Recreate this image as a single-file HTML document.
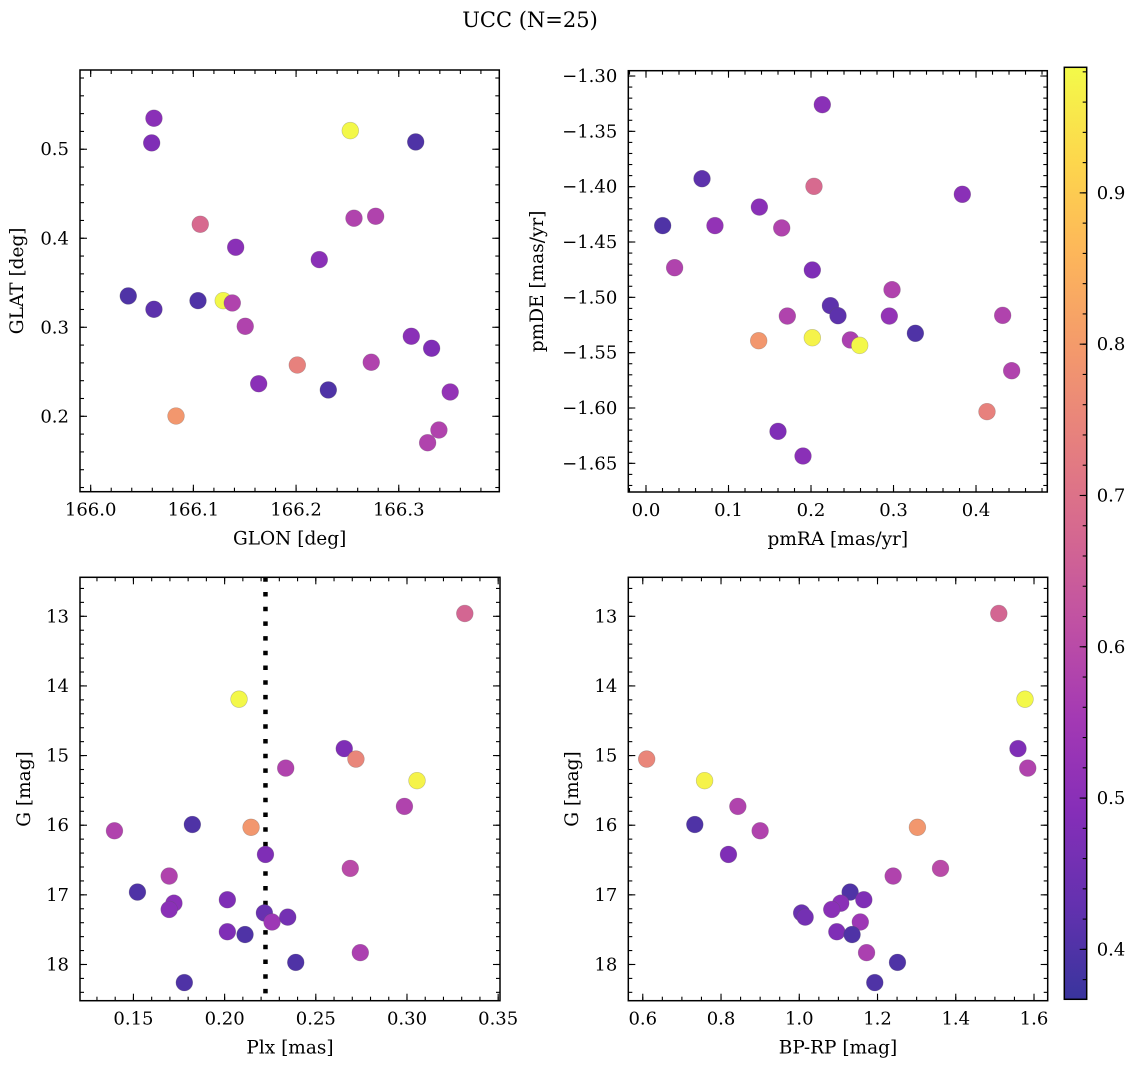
<!DOCTYPE html>
<html><head><meta charset="utf-8">
<style>
html,body{margin:0;padding:0;background:#fff;}
svg{display:block;font-family:"DejaVu Serif","Liberation Serif",serif;}
</style></head>
<body>
<svg id="fig" width="1136" height="1067" viewBox="0 0 1136 1067" xmlns="http://www.w3.org/2000/svg">
<defs><linearGradient id="cbgrad" x1="0" y1="1" x2="0" y2="0"></linearGradient></defs>
<text x="530" y="27" text-anchor="middle" font-size="21">UCC (N=25)</text>
</svg>
<script>
// Panel 1: GLON vs GLAT
const p1Glon=[166.0616,166.0594,166.2528,166.3165,166.1067,166.1412,166.2564,166.2775,166.2226,166.0366,166.0616,166.1045,166.1291,166.1379,166.1505,166.1636,166.2012,166.2314,166.2732,166.3122,166.3320,166.3501,166.3391,166.3281,166.0831];
const p1Glat=[0.5348,0.5071,0.5209,0.5082,0.4157,0.3899,0.4225,0.4247,0.3760,0.3352,0.3202,0.3299,0.3299,0.3273,0.3011,0.2366,0.2576,0.2296,0.2607,0.2899,0.2764,0.2273,0.1846,0.1703,0.2003];
const p1Color=[0.50,0.48,0.98,0.40,0.68,0.50,0.58,0.58,0.50,0.40,0.42,0.40,0.98,0.58,0.58,0.50,0.74,0.40,0.58,0.50,0.48,0.52,0.58,0.58,0.79];
// Panel 2: pmRA vs pmDE
const p2PmRA=[0.2137,0.0679,0.2036,0.3834,0.0202,0.0836,0.1374,0.1645,0.0347,0.2016,0.2982,0.2235,0.2327,0.1713,0.2949,0.4323,0.3265,0.1366,0.2016,0.2477,0.2590,0.4432,0.4133,0.1600,0.1903];
const p2PmDE=[-1.3259,-1.3928,-1.3997,-1.4069,-1.4352,-1.4352,-1.4184,-1.4373,-1.4732,-1.4753,-1.4931,-1.5075,-1.5166,-1.5169,-1.5169,-1.5163,-1.5325,-1.5392,-1.5365,-1.5385,-1.5434,-1.5663,-1.6033,-1.6211,-1.6434];
const p2Color=[0.50,0.42,0.68,0.50,0.40,0.52,0.50,0.58,0.58,0.48,0.58,0.42,0.42,0.58,0.52,0.58,0.40,0.79,0.97,0.57,0.98,0.58,0.74,0.48,0.50];
// Panels 3 & 4: Plx / BP-RP vs G
const starPlx=[0.3317,0.2079,0.2656,0.2720,0.2335,0.3055,0.2986,0.1396,0.1823,0.2145,0.2224,0.2689,0.1696,0.1522,0.1722,0.1696,0.2015,0.2218,0.2260,0.2346,0.2015,0.2112,0.2390,0.2744,0.1779];
const starG=[12.96,14.19,14.90,15.05,15.18,15.36,15.73,16.08,15.99,16.03,16.42,16.62,16.73,16.96,17.12,17.21,17.07,17.26,17.39,17.32,17.53,17.57,17.97,17.83,18.26];
const starBPRP=[1.510,1.577,1.559,0.610,1.584,0.758,0.843,0.900,0.733,1.302,0.819,1.361,1.240,1.130,1.106,1.083,1.165,1.006,1.156,1.015,1.096,1.135,1.251,1.172,1.193];
const starColor=[0.67,0.98,0.48,0.75,0.58,0.97,0.58,0.58,0.40,0.79,0.48,0.60,0.58,0.40,0.50,0.50,0.48,0.44,0.54,0.46,0.48,0.40,0.40,0.57,0.40];
const plxLine=0.2224;
// Colorbar
const cbMin=0.367, cbMax=0.983;
const cbTicks=[0.4,0.5,0.6,0.7,0.8,0.9];

const NS="http://www.w3.org/2000/svg";
const svg=document.getElementById('fig');
function mk(tag,attrs,parent){const e=document.createElementNS(NS,tag);for(const k in attrs)e.setAttribute(k,attrs[k]);(parent||svg).appendChild(e);return e;}

const plasma=[[13,8,135],[65,4,157],[106,0,168],[143,13,164],[177,42,144],[204,71,120],[225,100,98],[242,132,75],[252,166,54],[252,206,37],[240,249,33]];
const ALPHA=0.82;
function cmap(v){let t=(v-cbMin)/(cbMax-cbMin);t=Math.max(0,Math.min(1,t));const f=t*10;const i=Math.min(9,Math.floor(f));const r=f-i;
 const c=plasma[i].map((a,k)=>a+(plasma[i+1][k]-a)*r).map(a=>Math.round(a*ALPHA+255*(1-ALPHA)));return `rgb(${c[0]},${c[1]},${c[2]})`;}

function fmt(v,d){const s=Math.abs(v).toFixed(d);return (v<0?'\u2212':'')+s;}

function panel(o){
 const g=mk('g',{});
 
 
 const X=v=>o.L+(v-o.xd[0])/(o.xd[1]-o.xd[0])*(o.R-o.L);
 const Y=o.inv ? (v=>o.T+(v-o.yd[0])/(o.yd[1]-o.yd[0])*(o.B-o.T)) : (v=>o.B-(v-o.yd[0])/(o.yd[1]-o.yd[0])*(o.B-o.T));
 const tk=mk('g',{stroke:'#000','stroke-width':1.1},g);
 
 
 function xt(v,len){const x=X(v);if(x<o.L-0.5||x>o.R+0.5)return;mk('line',{x1:x,x2:x,y1:o.B,y2:o.B-len},tk);mk('line',{x1:x,x2:x,y1:o.T,y2:o.T+len},tk);}
 function yt(v,len){const y=Y(v);if(y<o.T-0.5||y>o.B+0.5)return;mk('line',{x1:o.L,x2:o.L+len,y1:y,y2:y},tk);mk('line',{x1:o.R,x2:o.R-len,y1:y,y2:y},tk);}
 const n1=Math.ceil(o.xd[0]/o.xmin-1e-6), n2=Math.floor(o.xd[1]/o.xmin+1e-6);
 for(let n=n1;n<=n2;n++)xt(n*o.xmin,4);
 const lo=Math.min(o.yd[0],o.yd[1]), hi=Math.max(o.yd[0],o.yd[1]);
 const m1=Math.ceil(lo/o.ymin-1e-6), m2=Math.floor(hi/o.ymin+1e-6);
 for(let n=m1;n<=m2;n++)yt(n*o.ymin,4);
 o.xt.forEach(v=>{xt(v,7);
  const t=mk('text',{x:X(v),y:o.B+24,'text-anchor':'middle','font-size':18},g);t.textContent=fmt(v,o.xdp);
  
  });
 o.yt.forEach(v=>{yt(v,7);
  const t=mk('text',{x:o.L-11,y:Y(v)+6,'text-anchor':'end','font-size':18},g);t.textContent=fmt(v,o.ydp);
  
  });
 if(o.vline!==undefined){const l=mk('line',{x1:X(o.vline),x2:X(o.vline),y1:o.T,y2:o.B,stroke:'#000','stroke-width':4.5,'stroke-dasharray':'4.5 10.2'},g);
  
  }
 o.xs.forEach((xv,i)=>{const c=mk('circle',{cx:X(xv),cy:Y(o.ys[i]),r:8.4,fill:cmap(o.cs[i]),stroke:'rgba(90,90,90,0.35)','stroke-width':0.6},g);
  
  });
 const fr=mk('rect',{x:o.L,y:o.T,width:o.R-o.L,height:o.B-o.T,fill:'none',stroke:'#000','stroke-width':1.5},g);
 
 
 const xl=mk('text',{x:(o.L+o.R)/2,y:o.B+53,'text-anchor':'middle','font-size':18.5},g);xl.textContent=o.xlab;
 
 
 const cy=(o.T+o.B)/2;
 const yl=mk('text',{x:o.ylx,y:cy,'text-anchor':'middle','font-size':18.5,transform:`rotate(-90 ${o.ylx} ${cy})`},g);yl.textContent=o.ylab;
 
 
}

panel({name:'glon-glat-panel',L:80,R:499.3,T:70,B:491.7,xd:[165.9896,166.3979],yd:[0.1153,0.589],
 xt:[166.0,166.1,166.2,166.3],xdp:1,xmin:0.02,yt:[0.2,0.3,0.4,0.5],ydp:1,ymin:0.02,
 xs:p1Glon,ys:p1Glat,cs:p1Color,xlab:'GLON [deg]',ylab:'GLAT [deg]',ylx:23});
panel({name:'pm-panel',L:628.3,R:1047.3,T:70.7,B:492,xd:[-0.02145,0.4864],yd:[-1.6759,-1.2952],
 xt:[0,0.1,0.2,0.3,0.4],xdp:1,xmin:0.02,yt:[-1.30,-1.35,-1.40,-1.45,-1.50,-1.55,-1.60,-1.65],ydp:2,ymin:0.01,
 xs:p2PmRA,ys:p2PmDE,cs:p2Color,xlab:'pmRA [mas/yr]',ylab:'pmDE [mas/yr]',ylx:543});
panel({name:'plx-g-panel',L:80,R:500,T:577.3,B:1000.7,xd:[0.1207,0.351],yd:[12.44,18.52],inv:true,
 xt:[0.15,0.20,0.25,0.30,0.35],xdp:2,xmin:0.01,yt:[13,14,15,16,17,18],ydp:0,ymin:0.2,
 xs:starPlx,ys:starG,cs:starColor,xlab:'Plx [mas]',ylab:'G [mag]',ylx:30,vline:plxLine});
panel({name:'cmd-panel',L:628.3,R:1047.7,T:577.3,B:1000.7,xd:[0.563,1.635],yd:[12.44,18.52],inv:true,
 xt:[0.6,0.8,1.0,1.2,1.4,1.6],xdp:1,xmin:0.05,yt:[13,14,15,16,17,18],ydp:0,ymin:0.2,
 xs:starBPRP,ys:starG,cs:starColor,xlab:'BP-RP [mag]',ylab:'G [mag]',ylx:578});

(function(){
 const L=1064.3,R=1086.7,T=67.3,B=999.3;
 const grad=document.getElementById('cbgrad');
 for(let i=0;i<=20;i++){const s=document.createElementNS(NS,'stop');s.setAttribute('offset',(i/20));s.setAttribute('stop-color',cmap(cbMin+(cbMax-cbMin)*i/20));grad.appendChild(s);}
 const g=mk('g',{});
 
 
 mk('rect',{x:L,y:T,width:R-L,height:B-T,fill:'url(#cbgrad)'},g);
 const Y=v=>B-(v-cbMin)/(cbMax-cbMin)*(B-T);
 for(let n=Math.ceil(cbMin/0.02);n<=Math.floor(cbMax/0.02);n++){const y=Y(n*0.02);mk('line',{x1:R,x2:R-4,y1:y,y2:y,stroke:'#000','stroke-width':1.1},g);}
 cbTicks.forEach(v=>{const y=Y(v);mk('line',{x1:R,x2:R-7,y1:y,y2:y,stroke:'#000','stroke-width':1.1},g);
  const t=mk('text',{x:R+10,y:y+6,'font-size':18},g);t.textContent=v.toFixed(1);
  
  });
 mk('rect',{x:L,y:T,width:R-L,height:B-T,fill:'none',stroke:'#000','stroke-width':1.5},g);
})();
</script>
</body></html>
